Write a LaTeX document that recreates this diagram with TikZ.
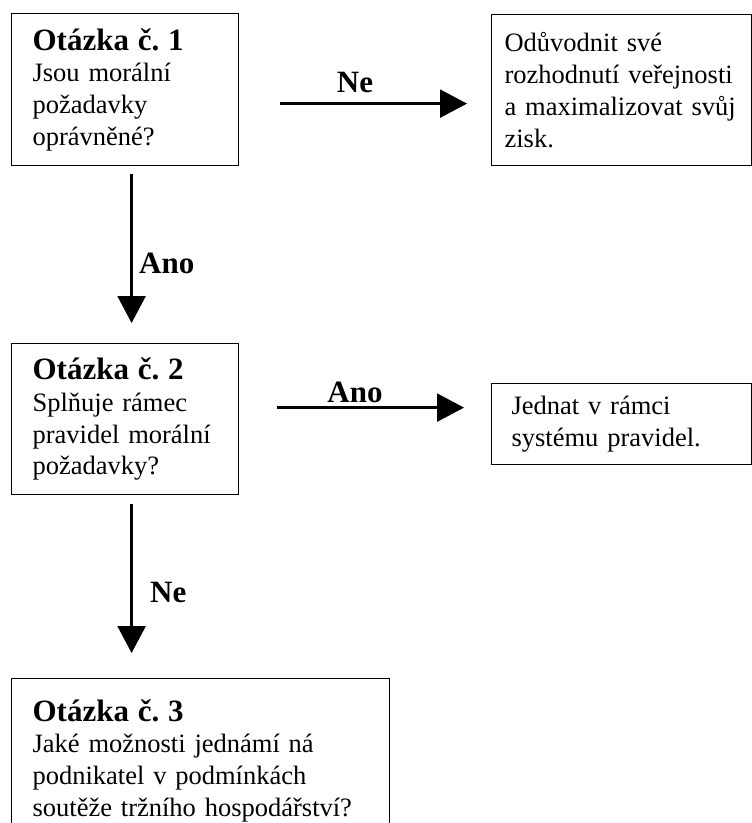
\documentclass[tikz,border=0pt]{standalone}
\usepackage{fontspec}
\setmainfont{Liberation Serif}
\usetikzlibrary{arrows.meta}
\frenchspacing

\newcommand{\otazka}[1]{{\fontsize{31}{36}\selectfont\bfseries Otázka č.\ #1}}

\begin{document}
\begin{tikzpicture}[x=1pt,y=-1pt]
\tikzset{
	box/.style = {draw, line width = 1.2pt, anchor = north west, align = left, inner ysep = 0pt, font = \fontsize{26.5}{31.7}\selectfont},
	flow/.style = {line width = 2.5pt, -{Triangle[length=27pt,width=28pt]}},
	lbl/.style = {font = \fontsize{31}{36}\selectfont\bfseries},
}
\clip (0,0) rectangle (752,823);

\node(q1)[box, inner xsep = 21pt, text width = 185pt, minimum height = 152pt] at (11,13)
	{\otazka{1}\\ Jsou morální\\ požadavky\\ oprávněné?};
\node(a1)[box, inner xsep = 13pt, text width = 234pt, minimum height = 151pt] at (491,14)
	{Odůvodnit své\\ rozhodnutí veřejnosti\\ a maximalizovat svůj\\ zisk.};
\node(q2)[box, inner xsep = 21pt, text width = 185pt, minimum height = 151pt] at (11,343)
	{\otazka{2}\\ Splňuje rámec\\ pravidel morální\\ požadavky?};
\node(a2)[box, inner xsep = 20pt, text width = 220pt, minimum height = 81pt] at (491,383)
	{Jednat v rámci\\ systému pravidel.};
\node(q3)[box, inner xsep = 21pt, text width = 336pt, minimum height = 164pt] at (11,678)
	{\otazka{3}\\ Jaké možnosti jednámí ná\\ podnikatel v podmínkách\\ soutěže tržního hospodářství?};

\draw[flow, shorten <= 41pt, shorten >= 24pt] ([yshift=-14pt]q1.east) -- ([yshift=-14pt]q1.east -| a1.west)
	node[lbl, pos = 0.46, yshift = 21pt]{Ne};
\draw[flow, shorten <= 8pt, shorten >= 20pt] ([xshift=6.5pt]q1.south) -- ([xshift=6.5pt]q1.south |- q2.north)
	node[lbl, pos = 0.55, right = 3pt]{Ano};
\draw[flow, shorten <= 38pt, shorten >= 27pt] ([yshift=11.5pt]q2.east) -- ([yshift=11.5pt]q2.east -| a2.west)
	node[lbl, pos = 0.46, yshift = 15pt]{Ano};
\draw[flow, shorten <= 9pt, shorten >= 25pt] ([xshift=6.5pt]q2.south) -- ([xshift=6.5pt]q2.south |- q3.north)
	node[lbl, pos = 0.53, right = 14pt]{Ne};

\end{tikzpicture}
\end{document}
